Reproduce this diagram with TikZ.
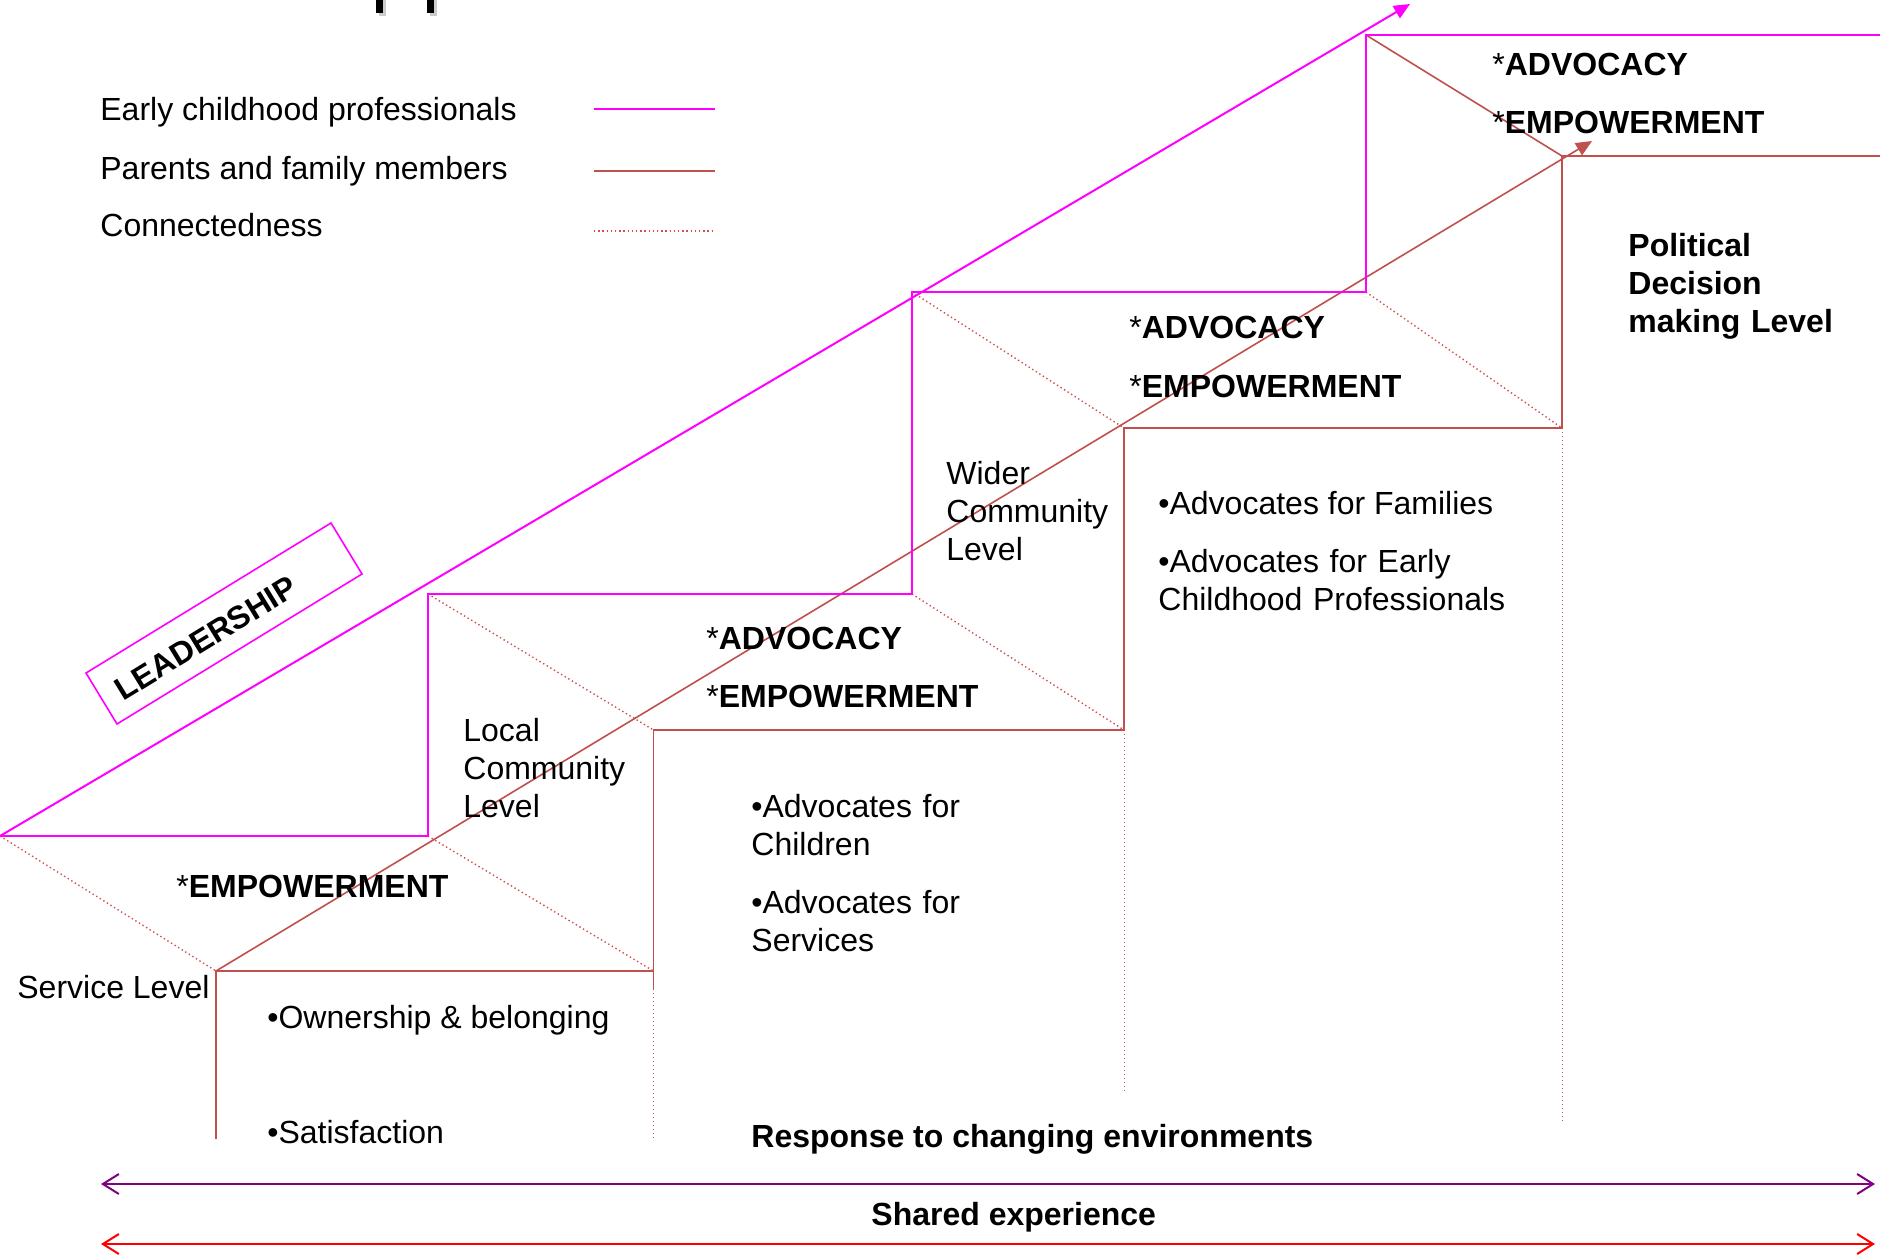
\documentclass[tikz,border=0pt]{standalone}
\usepackage{fontspec}
\setmainfont{Liberation Sans}
\usetikzlibrary{arrows.meta}
\definecolor{profc}{RGB}{255,0,255}
\definecolor{famc}{RGB}{192,80,77}
\definecolor{dotc}{RGB}{208,80,80}
\definecolor{purpc}{RGB}{128,0,128}
\definecolor{redc}{RGB}{255,0,0}
\begin{document}
\begin{tikzpicture}[x=0.5pt,y=-0.5pt,
  profline/.style={draw=profc,line width=1pt},
  famline/.style={draw=famc,line width=0.8pt},
  conline/.style={draw=dotc,line width=0.7pt,dash pattern=on 0.7pt off 1.4pt},
  vdots/.style={draw=dotc,line width=0.5pt,dash pattern=on 0.5pt off 1.5pt},
  txt/.style={font=\fontsize{16}{19}\selectfont,inner sep=0pt,anchor=base west},
  mtxt/.style={txt,text width=300pt,align=left},
  btxt/.style={txt,font=\fontsize{16}{19}\selectfont\bfseries},
  bmtxt/.style={btxt,text width=300pt,align=left},
  tiphead/.style={-{Triangle[length=8pt,width=7pt]}},
  shared/.style={line width=1pt,{Straight Barb[length=8pt,width=10pt]}-{Straight Barb[length=8pt,width=10pt]}}
]
\useasboundingbox (0,0) rectangle (1880,1254);
\fill[white] (0,0) rectangle (1880,1254);

% clipped title fragments
\fill[gray!40] (379,0) rectangle (386,16);
\fill[black] (376,0) rectangle (383,13);
\fill[gray!40] (430,0) rectangle (437,16);
\fill[black] (427,0) rectangle (434,13);

% coordinates
\coordinate (m0) at (0,836);
\coordinate (m1) at (428,836);
\coordinate (m2) at (428,594);
\coordinate (m3) at (912,594);
\coordinate (m4) at (912,292);
\coordinate (m5) at (1366,292);
\coordinate (m6) at (1366,35);
\coordinate (m7) at (1880,35);
\coordinate (mtip) at (1410,4);
\coordinate (r0) at (216,971);
\coordinate (r1) at (653.5,971);
\coordinate (r2) at (653.5,730);
\coordinate (r3) at (1124,730);
\coordinate (r4) at (1124,428);
\coordinate (r5) at (1562,428);
\coordinate (r6) at (1562,156);
\coordinate (r7) at (1880,156);
\coordinate (rtip) at (1592,141);
\coordinate (r0b) at (216,1139);
\coordinate (r1s) at (653.5,989);
\coordinate (r1b) at (653.5,1138);
\coordinate (r3b) at (1124,1091);
\coordinate (r5b) at (1562,1121);

% connectedness
\draw[conline] (m0) -- (r0);
\draw[conline] (m1) -- (r1);
\draw[conline] (m2) -- (r2);
\draw[conline] (m3) -- (r3);
\draw[conline] (m4) -- (r4);
\draw[conline] (m5) -- (r5);
\draw[famline] (m6) -- (r6);
\draw[vdots] (r1s) -- (r1b);
\draw[vdots] (r3) -- (r3b);
\draw[vdots] (r5) -- (r5b);

% parents and family members
\draw[famline] (r0b) -- (r0) -- (r1) -- (r2) -- (r3) -- (r4) -- (r5) -- (r6) -- (r7);
\draw[famline] (r1) -- (r1s);
\draw[famline,tiphead] (r0) -- (rtip);

% early childhood professionals
\draw[profline] (m0) -- (m1) -- (m2) -- (m3) -- (m4) -- (m5) -- (m6) -- (m7);
\draw[profline,tiphead] (m0) -- (mtip);

% legend
\node[txt] (leg1) at (100,120) {Early childhood professionals};
\node[txt] (leg2) at (100,179) {Parents and family members};
\node[txt] (leg3) at (100,236) {Connectedness};
\coordinate (l1a) at (594,109); \coordinate (l1b) at (715,109);
\coordinate (l2a) at (594,171); \coordinate (l2b) at (715,171);
\coordinate (l3a) at (594,231); \coordinate (l3b) at (715,231);
\draw[profline] (l1a) -- (l1b);
\draw[famline] (l2a) -- (l2b);
\draw[conline] (l3a) -- (l3b);

% leadership
\coordinate (lb1) at (331,523);
\coordinate (lb2) at (362,574);
\coordinate (lb3) at (117,724);
\coordinate (lb4) at (86,673);
\draw[draw=profc,line width=0.8pt] (lb1) -- (lb2) -- (lb3) -- (lb4) -- cycle;
\node[font=\fontsize{16}{19}\selectfont\bfseries,rotate=31.5,inner sep=0pt] (lead) at (206,638) {LEADERSHIP};

% service level
\node[btxt] (emp1) at (176,897) {{\mdseries *}EMPOWERMENT};
\node[txt] (svc) at (17,998) {Service Level};
\node[txt] (own) at (267,1028) {•Ownership \& belonging};
\node[txt] (sat) at (267,1143) {•Satisfaction};

% local community level
\node[mtxt] (local) at (463,741) {Local\\Community\\Level};
\node[btxt] (adv2) at (706,649) {{\mdseries *}ADVOCACY};
\node[btxt] (emp2) at (706,707) {{\mdseries *}EMPOWERMENT};
\node[mtxt] (child) at (751,817) {•Advocates for\\Children};
\node[mtxt] (serv) at (751,913) {•Advocates for\\Services};

% wider community level
\node[mtxt] (wider) at (946,484) {Wider\\Community\\Level};
\node[btxt] (adv3) at (1129,338) {{\mdseries *}ADVOCACY};
\node[btxt] (emp3) at (1129,397) {{\mdseries *}EMPOWERMENT};
\node[txt] (fams) at (1158,514) {•Advocates for Families};
\node[mtxt] (ecp) at (1158,572) {•Advocates for Early\\Childhood Professionals};

% political level
\node[btxt] (adv4) at (1492,75) {{\mdseries *}ADVOCACY};
\node[btxt] (emp4) at (1492,133) {{\mdseries *}EMPOWERMENT};
\node[bmtxt] (pol) at (1628,256) {Political\\Decision\\making Level};

% bottom
\node[btxt] (resp) at (751,1147) {Response to changing environments};
\coordinate (pa) at (101,1184); \coordinate (pb) at (1875,1184);
\draw[shared,draw=purpc] (pa) -- (pb);
\node[btxt] (shx) at (871,1225) {Shared experience};
\coordinate (ra) at (101,1244); \coordinate (rb) at (1875,1244);
\draw[shared,draw=redc] (ra) -- (rb);
\end{tikzpicture}
\end{document}
